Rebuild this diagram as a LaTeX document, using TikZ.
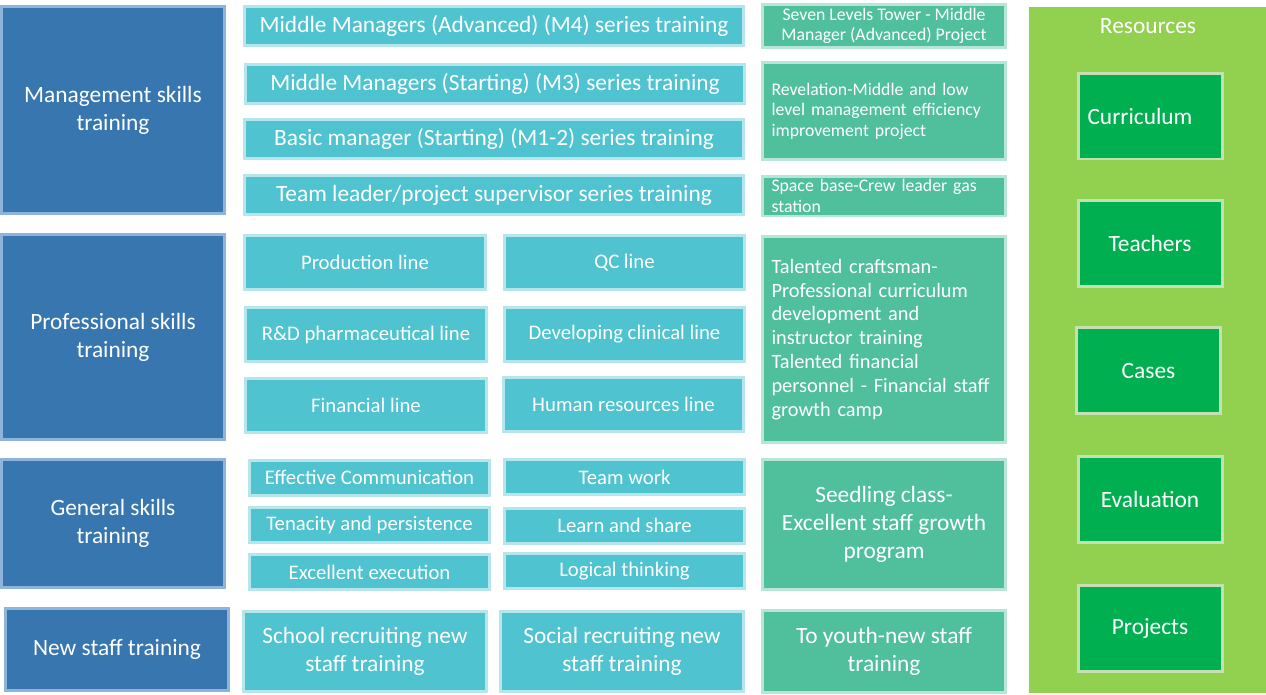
\documentclass[tikz,border=0pt]{standalone}
\usepackage{fontspec}
\setmainfont{Carlito}
\usetikzlibrary{positioning}

\definecolor{catfill}{HTML}{3776AE}
\definecolor{catline}{HTML}{8FB4DC}
\definecolor{linfill}{HTML}{4FC3CF}
\definecolor{linline}{HTML}{B4E6EC}
\definecolor{prjfill}{HTML}{50C09C}
\definecolor{prjline}{HTML}{B7E6D6}
\definecolor{panelfill}{HTML}{92D050}
\definecolor{resfill}{HTML}{00B050}
\definecolor{resline}{HTML}{C5E0B3}

\newcommand{\fsBig}{\fontsize{13.3}{15.9}\selectfont}
\newcommand{\fsMid}{\fontsize{11.8}{14}\selectfont}
\newcommand{\fsTal}{\fontsize{11.6}{13.6}\selectfont}
\newcommand{\fsSmall}{\fontsize{10.1}{11.6}\selectfont}

\begin{document}
\begin{tikzpicture}[
    x=0.02cm, y=-0.02cm,
    box/.style={rectangle, line width=1.7pt, text=white, align=center, inner sep=2pt},
    catbox/.style={box, draw=catline, fill=catfill, font=\fsBig, minimum width=4.46cm},
    widebox/.style={box, draw=linline, fill=linfill, font=\fsBig, minimum width=9.98cm, minimum height=0.78cm},
    gridbox/.style={box, draw=linline, fill=linfill, font=\fsMid, minimum width=4.82cm, minimum height=1.08cm},
    skillbox/.style={box, draw=linline, fill=linfill, font=\fsMid, minimum width=4.8cm, minimum height=0.7cm},
    newbox/.style={box, draw=linline, fill=linfill, font=\fsBig, minimum width=4.86cm, minimum height=1.6cm},
    projbox/.style={box, draw=prjline, fill=prjfill, minimum width=4.86cm},
    projleft/.style={projbox, align=left, text width=4.5cm},
    panel/.style={rectangle, fill=panelfill, minimum width=4.74cm, minimum height=13.72cm, inner sep=0pt},
    resbox/.style={box, draw=resline, fill=resfill, font=\fsBig, minimum width=2.88cm, minimum height=1.72cm}
]
    \useasboundingbox (0,0) rectangle (1266,694);

    % training categories
    \node[catbox, minimum height=4.14cm] (mgmt) at (113,110) {Management skills\\training};
    \node[catbox, minimum height=4.10cm] (prof) at (113,337) {Professional skills\\training};
    \node[catbox, minimum height=2.56cm] (gen) at (113,523.5) {General skills\\training};
    \node[catbox, minimum height=1.64cm] (newstaff) at (117,649.5) {New staff training};

    % management series
    \node[widebox] (mfour) at (494,26) {Middle Managers (Advanced) (M4) series training};
    \node[widebox] (mthree) at (495,84) {Middle Managers (Starting) (M3) series training};
    \node[widebox] (mone) at (494,139) {Basic manager (Starting) (M1-2) series training};
    \node[widebox] (teamlead) at (494,195) {Team leader/project supervisor series training};

    % professional lines
    \node[gridbox] (production) at (365,262.5) {Production line};
    \node[gridbox] (qc) at (624.5,262.5) {QC line};
    \node[gridbox] (rnd) at (366,334.5) {R\&D pharmaceutical line};
    \node[gridbox] (clinical) at (624.5,334.5) {Developing clinical line};
    \node[gridbox] (finance) at (366,405) {Financial line};
    \node[gridbox] (hr) at (623.5,404) {Human resources line};

    % general skills
    \node[skillbox] (communication) at (369.5,477.5) {Effective Communication};
    \node[skillbox] (teamwork) at (624.5,477) {Team work};
    \node[skillbox] (tenacity) at (369.5,524.5) {Tenacity and persistence};
    \node[skillbox] (learn) at (624.5,525.5) {Learn and share};
    \node[skillbox] (execution) at (369.5,572) {Excellent execution};
    \node[skillbox] (logical) at (624.5,571) {Logical thinking};

    % new staff
    \node[newbox] (school) at (365,651.5) {School recruiting new\\staff training};
    \node[newbox] (social) at (622,651) {Social recruiting new\\staff training};

    % projects
    \node[projbox, font=\fsSmall, minimum height=0.78cm] (seven) at (884,26) {Seven Levels Tower - Middle\\Manager (Advanced) Project};
    \node[projleft, font=\fsSmall, minimum height=1.94cm] (revelation) at (884,111) {Revelation-Middle and low\\level management efficiency\\improvement project};
    \node[projleft, font=\fsSmall, minimum height=0.8cm] (spacebase) at (884,196) {Space base-Crew leader gas\\station};
    \node[projleft, font=\fsTal, minimum height=4.12cm] (talented) at (884,339.5) {Talented craftsman-\\Professional curriculum\\development and\\instructor training\\Talented financial\\personnel - Financial staff\\growth camp};
    \node[projbox, font=\fsBig, minimum height=2.6cm] (seedling) at (884,524.5) {Seedling class-\\Excellent staff growth\\program};
    \node[projbox, font=\fsBig, minimum height=1.64cm] (youth) at (884,651) {To youth-new staff\\training};

    % resources
    \node[panel] (resources) at (1147.5,350) {};
    \node[text=white, font=\fsBig] (restitle) at (1148,26) {Resources};
    \node[resbox, align=left, text width=2.5cm] (curriculum) at (1150,116) {Curriculum};
    \node[resbox] (teachers) at (1150,243.5) {Teachers};
    \node[resbox] (cases) at (1148.5,370.5) {Cases};
    \node[resbox] (evaluation) at (1150,499.5) {Evaluation};
    \node[resbox] (projects) at (1150,628) {Projects};
\end{tikzpicture}
\end{document}
